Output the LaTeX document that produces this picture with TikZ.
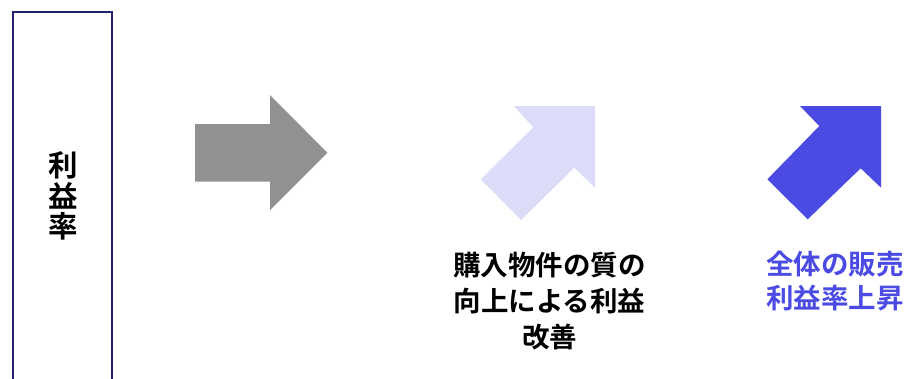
\documentclass[tikz,border=0pt]{standalone}
\usepackage{fontspec}
\newfontfamily\jp{Noto Sans CJK JP Bold}
\definecolor{boxnavy}{HTML}{22226E}
\definecolor{arrgray}{HTML}{919191}
\definecolor{arrlight}{HTML}{DCDCF8}
\definecolor{arrblue}{HTML}{4B4BE3}
\begin{document}
\begin{tikzpicture}[x=1pt,y=-1pt,
  lbl/.style={inner sep=0pt,align=center,text=black},
  arrfill/.style={draw=none}]
\useasboundingbox (0,0) rectangle (907,378);
% left box
\draw[boxnavy,line width=2pt] (12.7,390) -- (12.7,11.7) -- (111.7,11.7) -- (111.7,390);
\node[lbl,font=\jp\fontsize{29.5pt}{30.8pt}\selectfont] (rate) at (63.5,196) {利\\益\\率};
% gray arrow
\fill[arrgray] (195,124) -- (270,124) -- (270,95) -- (327.3,152.7) -- (270,210) -- (270,181.7) -- (195,181.7) -- cycle;
% light arrow
\fill[arrlight] (514,106) -- (595,106) -- (595,187.7) -- (574.3,167.7) -- (521,220) -- (480.7,179.3) -- (533.3,127.3) -- cycle;
% blue arrow
\fill[arrblue] (800,106) -- (881,106) -- (881,187.7) -- (860.7,168.3) -- (807.7,219.3) -- (767.3,179.3) -- (819.3,126) -- cycle;
% texts
\node[lbl,font=\jp\fontsize{27.5pt}{36pt}\selectfont] (quality) at (549.5,301) {購入物件の質の\\向上による利益\\改善};
\node[lbl,text=arrblue,font=\jp\fontsize{27.5pt}{33.5pt}\selectfont] (sales) at (835,281) {全体の販売\\利益率上昇};
\end{tikzpicture}
\end{document}
